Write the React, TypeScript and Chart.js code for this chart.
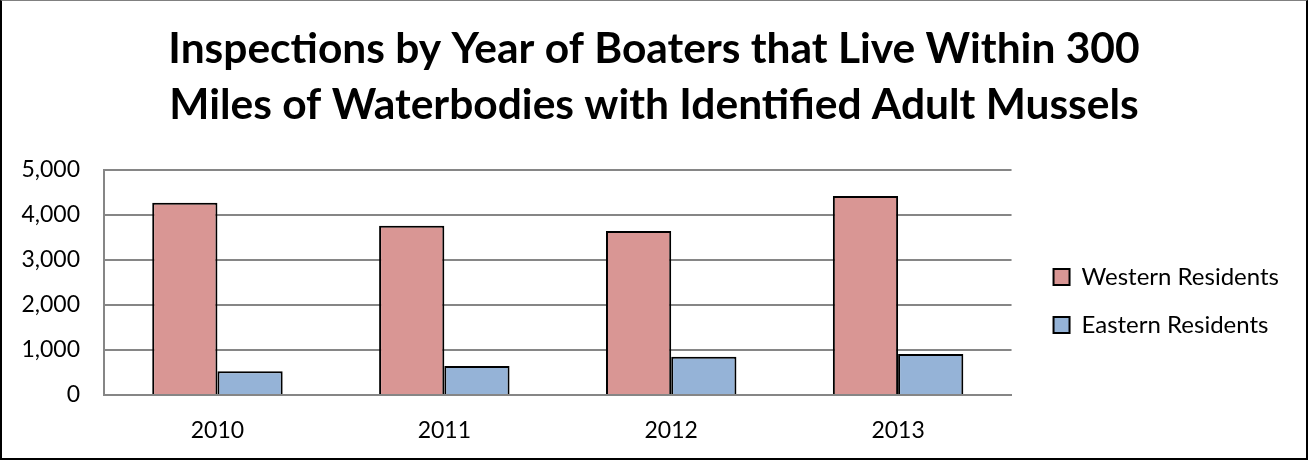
import React, { useEffect, useRef } from "react";
import { Chart, registerables } from "chart.js";

Chart.register(...registerables);

const categories = ["2010", "2011", "2012", "2013"];
const westernResidents = [4270, 3760, 3645, 4420];
const easternResidents = [530, 645, 850, 910];
const titleLines = [
  "Inspections by Year of Boaters that Live Within 300",
  "Miles of Waterbodies with Identified Adult Mussels",
];
const seriesNames = ["Western Residents", "Eastern Residents"];

const FONT = "Lato, 'Open Sans', sans-serif";

export default function App() {
  const ref = useRef<HTMLCanvasElement | null>(null);

  useEffect(() => {
    if (!ref.current) return;
    const chart = new Chart(ref.current, {
      type: "bar",
      data: {
        labels: categories,
        datasets: [
          {
            label: seriesNames[0],
            data: westernResidents,
            backgroundColor: "#D99694",
            borderColor: "#000000",
            borderWidth: 2,
            categoryPercentage: 0.575,
            barPercentage: 1.0,
          },
          {
            label: seriesNames[1],
            data: easternResidents,
            backgroundColor: "#95B3D7",
            borderColor: "#000000",
            borderWidth: 2,
            categoryPercentage: 0.575,
            barPercentage: 1.0,
          },
        ],
      },
      options: {
        responsive: false,
        animation: false,
        layout: { padding: { left: 19, right: 19, top: 0, bottom: 0 } },
        plugins: {
          tooltip: { enabled: false },
          title: {
            display: true,
            text: titleLines,
            color: "#000000",
            font: { family: FONT, size: 42.5, weight: "bold", lineHeight: 1.306 },
            padding: { top: 21.75, bottom: 37.25 },
          },
          legend: {
            display: true,
            position: "right",
            align: "center",
            fullSize: false,
            title: {
              display: true,
              text: " ",
              font: { size: 10, lineHeight: 1.2 },
              padding: { top: 0, bottom: 25 },
            },
            labels: {
              color: "#000000",
              font: { family: FONT, size: 24 },
              boxWidth: 16,
              boxHeight: 16,
              padding: 24,
              generateLabels: (c: any) =>
                c.data.datasets.map((ds: any, i: number) => ({
                  text: ds.label,
                  fillStyle: ds.backgroundColor,
                  strokeStyle: "#000000",
                  lineWidth: 2,
                  hidden: false,
                  datasetIndex: i,
                  fontColor: "#000000",
                })),
            },
          },
        },
        scales: {
          x: {
            grid: { display: false, drawTicks: false },
            border: { display: true, color: "#868686", width: 2 },
            ticks: {
              color: "#000000",
              font: { family: FONT, size: 23 },
              padding: 22,
            },
            afterFit: (s: any) => {
              s.height = 65;
            },
          },
          y: {
            min: 0,
            max: 5000,
            grid: { color: "#868686", lineWidth: 2, drawTicks: false },
            border: { display: true, color: "#868686", width: 2 },
            ticks: {
              stepSize: 1000,
              color: "#000000",
              font: { family: FONT, size: 23 },
              padding: 24,
              callback: (v: any) => Number(v).toLocaleString("en-US"),
            },
            afterFit: (s: any) => {
              s.width = 85;
            },
          },
          gap: {
            type: "linear",
            position: "right",
            display: false,
            afterFit: (s: any) => {
              s.width = 18;
            },
          },
        },
      },
    });
    return () => chart.destroy();
  }, []);

  return (
    <div
      style={{
        position: "absolute",
        left: 0,
        top: 0,
        width: 1308,
        height: 460,
        background: "#ffffff",
      }}
    >
      <canvas ref={ref} width={1308} height={460} style={{ display: "block" }} />
      <div
        style={{
          position: "absolute",
          left: 0,
          top: 0,
          width: 1308,
          height: 460,
          boxSizing: "border-box",
          borderLeft: "2px solid #000",
          borderRight: "2px solid #000",
          borderBottom: "2px solid #000",
          borderTop: "1px solid #808080",
          pointerEvents: "none",
        }}
      />
    </div>
  );
}
